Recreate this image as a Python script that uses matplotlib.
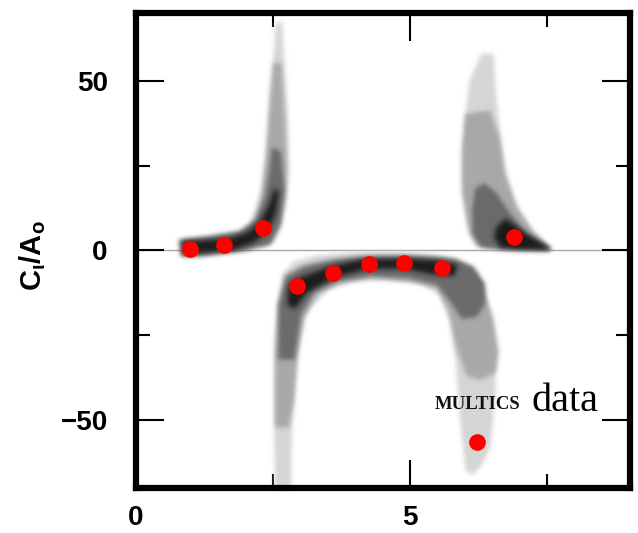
import numpy as np
import matplotlib
matplotlib.use("Agg")
import matplotlib.pyplot as plt
from matplotlib.ticker import FixedLocator

plt.rcParams['font.family'] = ['Liberation Sans', 'DejaVu Sans']
plt.rcParams['font.weight'] = 'bold'
plt.rcParams['mathtext.fontset'] = 'custom'
plt.rcParams['mathtext.default'] = 'regular'

# Measured coefficient values (red points)
points_x = [0.99, 1.62, 2.32, 2.94, 3.59, 4.26, 4.90, 5.58, 6.89, 6.23]
points_y = [0.5, 1.5, 6.6, -10.6, -6.6, -4.1, -3.9, -5.2, 3.9, -56.7]

# Probability regions of the simulated ensemble, one outline per shading level
left_light = [(2.57, 67), (2.66, 67), (2.72, 50), (2.77, 37), (2.78, 22), (2.73, 14),
              (2.64, 7), (2.50, 2.5), (2.30, 1.0), (2.10, 3.5), (2.13, 9.5), (2.32, 18),
              (2.41, 32), (2.45, 45), (2.54, 60)]
left_mid = [(2.53, 55), (2.64, 55), (2.70, 40), (2.74, 25), (2.71, 15), (2.60, 7),
            (2.42, 2.5), (2.15, 5.5), (2.28, 13), (2.39, 27), (2.46, 42)]
left_dark = [(2.50, 30), (2.63, 29), (2.70, 18), (2.63, 8), (2.45, 2), (2.0, 0),
             (1.2, -1.6), (0.84, -1.6), (0.80, 2.9), (1.3, 3.9), (1.9, 5.5), (2.2, 9),
             (2.38, 16), (2.46, 24)]
left_core = [(0.88, -1.0), (1.3, -0.4), (1.8, 0.4), (2.15, 2.5), (2.4, 5.8), (2.54, 11),
             (2.60, 17), (2.54, 18), (2.44, 13), (2.28, 8.3), (2.05, 5.0), (1.7, 3.2),
             (1.2, 2.6), (0.88, 2.5)]

arch_light = [(2.56, -70.8), (2.54, -50), (2.55, -30), (2.60, -16), (2.70, -7), (2.90, -3.5),
              (3.3, -1.8), (4.0, -0.9), (4.9, -0.9), (5.5, -1.6), (5.9, -3), (6.2, -8),
              (6.38, -16), (6.5, -26), (6.55, -40), (6.5, -50), (6.45, -58), (6.3, -63),
              (6.15, -66), (6.03, -65), (5.97, -56), (5.9, -45), (5.85, -33), (5.75, -21),
              (5.55, -13), (5.2, -9.5), (4.6, -8.5), (4.0, -8.8), (3.5, -11.5), (3.1, -18),
              (2.95, -28), (2.88, -40), (2.83, -55), (2.82, -70.8)]
arch_mid = [(2.56, -52), (2.56, -30), (2.61, -16), (2.74, -7.5), (3.0, -5), (3.5, -3),
            (4.2, -1.8), (5.0, -1.8), (5.6, -2.5), (6.0, -4.5), (6.3, -10), (6.5, -20),
            (6.6, -30), (6.55, -36), (6.3, -38), (6.05, -37), (5.85, -28), (5.72, -18),
            (5.5, -11), (5.0, -9), (4.3, -8), (3.7, -9.5), (3.3, -13), (3.05, -20),
            (2.93, -32), (2.87, -45), (2.78, -52)]
arch_dark = [(2.62, -32), (2.63, -16), (2.76, -8), (3.1, -5), (3.7, -3), (4.4, -2.2),
             (5.2, -2.2), (5.8, -2.8), (6.15, -5), (6.35, -10), (6.35, -16), (6.2, -19.5),
             (5.95, -20), (5.75, -15), (5.5, -10), (5.0, -8), (4.3, -7.3), (3.7, -8.8),
             (3.25, -12), (3.0, -19), (2.88, -32)]
arch_core = [(2.78, -16), (2.80, -10.5), (3.0, -8.3), (3.5, -5.3), (4.1, -3.0), (4.9, -2.7),
             (5.5, -3.3), (5.85, -4.5), (5.8, -7.3), (5.4, -6.9), (4.9, -5.2), (4.2, -5.3),
             (3.6, -8.0), (3.1, -12.5), (2.9, -17)]

right_light = [(6.31, 57.7), (6.51, 57.7), (6.55, 47), (6.61, 37.5), (6.7, 25), (6.9, 14),
               (7.2, 6), (7.55, 0.3), (7.0, 0.3), (6.5, 0.5), (6.2, 1.5), (6.05, 8),
               (5.97, 20), (5.97, 27.5), (6.04, 42), (6.1, 50)]
right_mid = [(6.02, 40), (6.45, 41), (6.62, 33), (6.72, 22), (6.95, 12), (7.25, 5),
             (7.55, 0.3), (6.6, 0.5), (6.25, 1.5), (6.1, 5), (5.97, 17), (5.97, 30)]
right_dark = [(6.2, 18), (6.35, 19.5), (6.55, 17), (6.8, 11), (7.1, 5), (7.55, 0.3),
              (6.7, 0.6), (6.3, 1.2), (6.16, 5), (6.15, 12)]
right_core = [(6.75, 9), (7.1, 4.8), (7.55, 0.3), (6.95, 0.5), (6.65, 1.0), (6.55, 4),
              (6.6, 7)]

level_colors = {'light': '#d6d6d6', 'mid': '#a9a9a9', 'dark': '#6b6b6b', 'core': '#1c1c1c'}
regions = [
    (left_light, 'light'), (arch_light, 'light'), (right_light, 'light'),
    (left_mid, 'mid'), (arch_mid, 'mid'), (right_mid, 'mid'),
    (left_dark, 'dark'), (arch_dark, 'dark'), (right_dark, 'dark'),
    (left_core, 'core'), (arch_core, 'core'), (right_core, 'core'),
]


def soft_edges(sigma):
    """Agg filter that feathers the outline of a single-colour patch."""
    radius = int(3 * sigma)
    kern = np.exp(-np.arange(-radius, radius + 1) ** 2 / (2.0 * sigma ** 2))
    kern /= kern.sum()

    def _filter(img, dpi):
        alpha = np.pad(img[:, :, 3], radius)
        solid = img[:, :, 3] > 0.5
        rgb = img[:, :, :3][solid].mean(axis=0) if solid.any() else np.zeros(3)
        out = np.zeros_like(alpha)
        for i, w in enumerate(kern):
            out += w * np.roll(alpha, i - radius, axis=0)
        alpha = out
        out = np.zeros_like(alpha)
        for i, w in enumerate(kern):
            out += w * np.roll(alpha, i - radius, axis=1)
        res = np.empty(out.shape + (4,))
        res[:, :, :3] = rgb
        res[:, :, 3] = out
        return res, -radius, -radius

    return _filter


fig = plt.figure(figsize=(6.38, 5.33), dpi=100)
ax = fig.add_axes([0.2124, 0.0835, 0.7743, 0.8921])

ax.axhline(0, color='#a8a8a8', lw=1.0, zorder=1)

for outline, level in regions:
    xs = [p[0] for p in outline]
    ys = [p[1] for p in outline]
    patch, = ax.fill(xs, ys, color=level_colors[level], lw=1.2,
                     ec=level_colors[level], zorder=2)
    patch.set_agg_filter(soft_edges(2.2 if level != 'core' else 2.6))

ax.plot(points_x, points_y, 'o', color='#ff0000', ms=12, mec='none', zorder=5)

ax.text(5.45, -46.9, 'MULTICS', family='Liberation Serif', weight='bold',
        fontsize=13.5, color='#111111', zorder=6)
ax.text(7.21, -47.5, 'data', family='Liberation Serif', weight='normal',
        fontsize=29, color='#000000', zorder=6)

ax.set_xlim(0, 9.0)
ax.set_ylim(-70.3, 70.0)

ax.xaxis.set_major_locator(FixedLocator([0, 5]))
ax.xaxis.set_minor_locator(FixedLocator([2.5, 7.5]))
ax.yaxis.set_major_locator(FixedLocator([-50, 0, 50]))
ax.yaxis.set_minor_locator(FixedLocator([-25, 25]))
ax.set_xticklabels(['0', '5'])
ax.set_yticklabels(['\u221250', '0', '50'])

for s in ax.spines.values():
    s.set_linewidth(4.5)
ax.tick_params(which='both', direction='in', top=True, right=True, width=1.5)
ax.tick_params(which='major', length=20, labelsize=20)
ax.tick_params(which='minor', length=10)
ax.tick_params(axis='y', which='major', pad=20)
ax.tick_params(axis='x', which='major', pad=12)

ax.set_ylabel(r'C$_\iota$/A$_o$', fontsize=21, weight='bold')
ax.yaxis.set_label_coords(-0.177, 0.49)

fig.savefig('out.png', dpi=100)
